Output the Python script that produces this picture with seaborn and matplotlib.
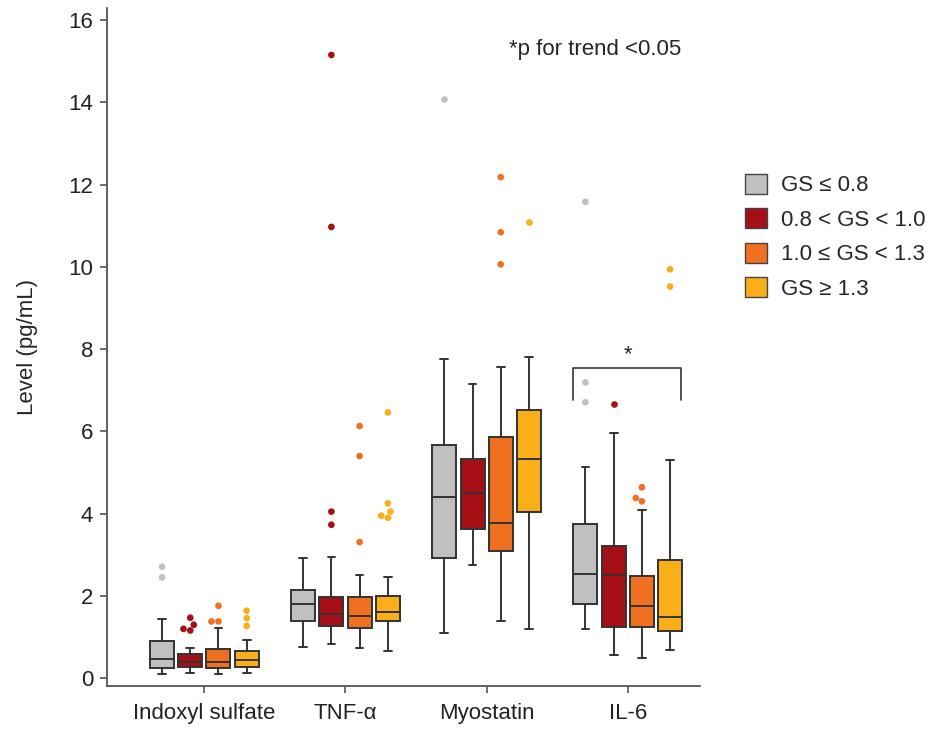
import pandas as pd
import seaborn as sns
import matplotlib.pyplot as plt
from matplotlib.patches import Patch

markers = ["Indoxyl sulfate", "TNF-α", "Myostatin", "IL-6"]
groups = ["GS ≤ 0.8", "0.8 < GS < 1.0", "1.0 ≤ GS < 1.3", "GS ≥ 1.3"]
colors = ["#c0c0c0", "#a50f15", "#f07022", "#f9ae1a"]

# five-number summaries, one row per marker, one column per GS group
whisk_lo = [[0.09, 0.13, 0.09, 0.13],
            [0.77, 0.82, 0.73, 0.65],
            [1.11, 2.75, 1.38, 1.20],
            [1.19, 0.56, 0.49, 0.68]]
q1 = [[0.24, 0.28, 0.26, 0.27],
      [1.38, 1.28, 1.23, 1.38],
      [2.92, 3.62, 3.09, 4.04],
      [1.80, 1.25, 1.25, 1.14]]
median = [[0.46, 0.40, 0.40, 0.45],
          [1.81, 1.55, 1.51, 1.60],
          [4.41, 4.51, 3.78, 5.33],
          [2.54, 2.51, 1.75, 1.48]]
q3 = [[0.91, 0.59, 0.72, 0.65],
      [2.15, 1.98, 1.97, 2.01],
      [5.68, 5.34, 5.87, 6.53],
      [3.74, 3.22, 2.49, 2.88]]
whisk_hi = [[1.44, 0.73, 1.22, 0.94],
            [2.92, 2.94, 2.50, 2.45],
            [7.76, 7.15, 7.56, 7.82],
            [5.13, 5.97, 4.10, 5.30]]

# outliers
outliers = [[[2.71, 2.45], [1.47, 1.30, 1.20, 1.16], [1.76, 1.38, 1.38], [1.64, 1.46, 1.27]],
            [[], [15.15, 10.97, 4.05, 3.73], [6.13, 5.40, 3.31], [6.46, 4.25, 4.05, 3.95, 3.90]],
            [[14.08], [], [12.18, 10.84, 10.06], [11.10]],
            [[11.58, 7.19, 6.71], [6.67], [4.64, 4.38, 4.30], [9.94, 9.52]]]

rows, fl_rows = [], []
for i, m in enumerate(markers):
    for j, g in enumerate(groups):
        for v in (whisk_lo[i][j], q1[i][j], median[i][j], q3[i][j], whisk_hi[i][j]):
            rows.append({"marker": m, "group": g, "value": v})
        for v in outliers[i][j]:
            fl_rows.append({"marker": m, "group": g, "value": v})
df = pd.DataFrame(rows)
df_fl = pd.DataFrame(fl_rows)

sns.set_style("ticks")
plt.rcParams["font.family"] = ["Liberation Sans", "DejaVu Sans"]

fig = plt.figure(figsize=(9.28, 7.33), dpi=100)
ax = fig.add_axes([0.1153, 0.0641, 0.754 - 0.1153, 0.989 - 0.0641])

sns.boxplot(data=df, x="marker", y="value", hue="group", order=markers,
            hue_order=groups, palette=colors, saturation=1, whis=(0, 100),
            showfliers=False, width=0.8, gap=0.15, linecolor="#333333",
            linewidth=1.4, capwidths=0.055, legend=False, ax=ax)
sns.swarmplot(data=df_fl, x="marker", y="value", hue="group", order=markers,
              hue_order=groups, palette=colors, dodge=True, size=4.8,
              linewidth=0, legend=False, ax=ax)

ax.set_xlim(-0.69, 3.51)
ax.set_ylim(-0.19, 16.29)
ax.set_yticks(range(0, 17, 2))
ax.set_xlabel("")
ax.set_ylabel("Level (pg/mL)", fontsize=16, labelpad=22)
ax.tick_params(labelsize=16, length=5, width=1.2, color="#555555",
               labelcolor="#222222", pad=5)
ax.tick_params(axis="x", pad=7)
for s in ["left", "bottom"]:
    ax.spines[s].set_color("#555555")
    ax.spines[s].set_linewidth(1.3)
sns.despine(ax=ax)

# trend bracket on IL-6
ax.plot([2.615, 2.615, 3.378, 3.378], [6.76, 7.54, 7.54, 6.76],
        color="#333333", lw=1.2)
ax.text(3.0, 7.62, "*", ha="center", va="bottom", fontsize=16)
ax.text(2.77, 15.28, "*p for trend <0.05", ha="center", va="center", fontsize=16)

handles = [Patch(facecolor=c, edgecolor="#444444", linewidth=1, label=g)
           for c, g in zip(colors, groups)]
fig.legend(handles=handles, loc="upper left", bbox_to_anchor=(0.803, 0.763),
           frameon=False, fontsize=16, handlelength=1.0, handleheight=1.0,
           handletextpad=0.62, labelspacing=0.54, borderpad=0, borderaxespad=0)

fig.savefig("out.png", dpi=100)
